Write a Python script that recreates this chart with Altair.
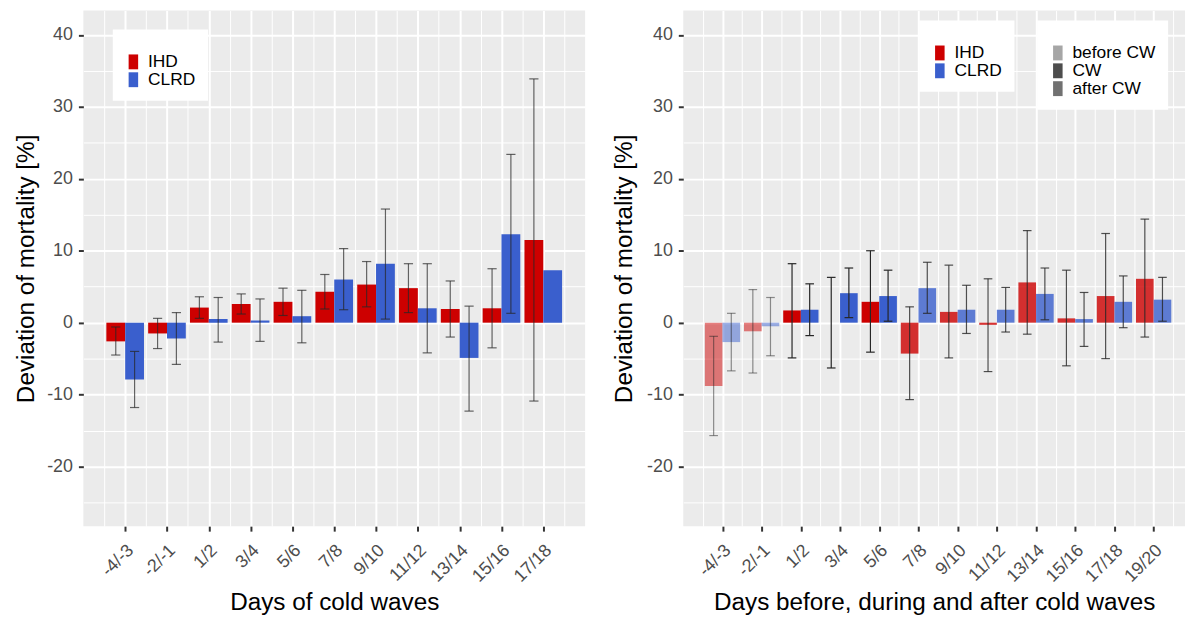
import json
import altair as alt
import pandas as pd

# ---------------- data ----------------
labels_left = ['-4/-3', '-2/-1', '1/2', '3/4', '5/6', '7/8', '9/10', '11/12', '13/14', '15/16', '17/18']
ihd_left = [-2.6, -1.5, 2.1, 2.6, 2.9, 4.3, 5.3, 4.8, 1.9, 2.0, 11.5]
ihd_left_lo = [-4.5, -3.6, 0.6, 1.2, 1.0, 1.9, 2.2, 1.4, -2.0, -3.5, -10.9]
ihd_left_hi = [-0.6, 0.6, 3.6, 4.0, 4.8, 6.7, 8.5, 8.2, 5.8, 7.5, 33.9]
clrd_left = [-7.9, -2.2, 0.5, 0.3, 0.9, 6.0, 8.2, 2.0, -4.9, 12.3, 7.3]
clrd_left_lo = [-11.8, -5.8, -2.7, -2.6, -2.8, 1.8, 0.5, -4.2, -12.3, 1.3, None]
clrd_left_hi = [-4.0, 1.4, 3.5, 3.3, 4.5, 10.3, 15.8, 8.2, 2.3, 23.4, None]

labels_right = ['-4/-3', '-2/-1', '1/2', '3/4', '5/6', '7/8', '9/10', '11/12', '13/14', '15/16', '17/18', '19/20']
ihd_right = [-8.8, -1.2, 1.7, 0.0, 2.9, -4.3, 1.5, -0.3, 5.6, 0.6, 3.7, 6.1]
ihd_right_lo = [-15.7, -7.0, -4.9, -6.3, -4.1, -10.7, -4.9, -6.8, -1.6, -6.0, -5.0, -2.0]
ihd_right_hi = [-1.9, 4.6, 8.2, 6.3, 10.0, 2.2, 8.0, 6.1, 12.8, 7.3, 12.4, 14.4]
clrd_right = [-2.7, -0.5, 1.8, 4.1, 3.7, 4.8, 1.8, 1.8, 4.0, 0.5, 2.9, 3.2]
clrd_right_lo = [-6.7, -4.6, -1.8, 0.7, 0.2, 1.3, -1.5, -1.3, 0.4, -3.3, -0.7, 0.2]
clrd_right_hi = [1.3, 3.5, 5.4, 7.6, 7.3, 8.4, 5.2, 4.9, 7.6, 4.2, 6.5, 6.3]
period_right = ['before CW'] * 2 + ['CW'] * 3 + ['after CW'] * 7

diseases = ['IHD', 'CLRD']
disease_colors = ['#CD0000', '#3A5FCD']
periods = ['before CW', 'CW', 'after CW']
period_alpha = [0.5, 1.0, 0.8]


def make_df(labels, ihd, ihd_lo, ihd_hi, clrd, clrd_lo, clrd_hi, period):
    rows = []
    for i, lab in enumerate(labels):
        for side, (dis, v, lo, hi) in enumerate([('IHD', ihd, ihd_lo, ihd_hi),
                                                 ('CLRD', clrd, clrd_lo, clrd_hi)]):
            rows.append(dict(idx=i, label=lab, disease=dis, side=side, value=v[i],
                             lo=lo[i], hi=hi[i], period=period[i]))
    return pd.DataFrame(rows)


df_left = make_df(labels_left, ihd_left, ihd_left_lo, ihd_left_hi,
                  clrd_left, clrd_left_lo, clrd_left_hi, ['CW'] * len(labels_left))
df_right = make_df(labels_right, ihd_right, ihd_right_lo, ihd_right_hi,
                   clrd_right, clrd_right_lo, clrd_right_hi, period_right)

FONT = 'Liberation Sans'
W, H = 506, 520
YDOM = [-28.3, 43.4]
KEY = 'M-0.64,-1H0.64V1H-0.64Z'
TITLE_SIZE = 24.5


def panel(df, labels, xmax, xtitle, ytitle_x, color_legend, period_legend, use_period):
    n = len(labels)
    xvals = [k * 0.5 for k in range(-1, 2 * n)]
    yvals = list(range(-25, 45, 5))
    xscale = alt.Scale(domain=[-1, xmax], nice=False, zero=False)
    yscale = alt.Scale(domain=YDOM, nice=False, zero=False)
    xaxis = alt.Axis(
        values=xvals,
        labelExpr="datum.value % 1 === 0 ? " + json.dumps(labels) + "[datum.value] : ''",
        labelAngle=-45, labelAlign='right', labelBaseline='top',
        labelPadding=10, labelOffset=-1, labelFontSize=18, labelColor='#4D4D4D', labelFont=FONT,
        tickOpacity={"condition": {"test": "datum.value % 1 === 0", "value": 1}, "value": 0},
        gridWidth={"condition": {"test": "datum.value % 1 === 0", "value": 2}, "value": 1},
        tickSize=5, tickWidth=2, tickColor='#333333',
        grid=True, gridColor='white', gridOpacity=1, domain=False,
        title=xtitle, titleFontSize=TITLE_SIZE, titleFont=FONT, titleFontWeight='normal',
        titleColor='black', titleX=W / 2, titleY=77, titleAlign='center',
        titleBaseline='middle', labelOverlap=False,
    )
    yaxis = alt.Axis(
        values=yvals,
        labelExpr="datum.value % 10 === 0 ? '' + datum.value : ''",
        tickOpacity={"condition": {"test": "datum.value % 10 === 0", "value": 1}, "value": 0},
        gridWidth={"condition": {"test": "datum.value % 10 === 0", "value": 2}, "value": 1},
        tickSize=5, tickWidth=2, tickColor='#333333', labelPadding=6,
        labelFontSize=18, labelColor='#4D4D4D', labelFont=FONT,
        grid=True, gridColor='white', gridOpacity=1, domain=False,
        title='Deviation of mortality [%]', titleFontSize=TITLE_SIZE, titleFont=FONT,
        titleFontWeight='normal', titleColor='black', titleX=ytitle_x, titleY=H / 2,
        titleAlign='center', titleBaseline='middle', titleAngle=-90, labelOverlap=False,
    )

    base = alt.Chart(df).transform_calculate(
        xs='datum.idx - 0.45 + datum.side * 0.45',
        xe='datum.idx + datum.side * 0.45',
        xc='datum.idx - 0.225 + datum.side * 0.45',
        cl='datum.idx - 0.335 + datum.side * 0.45',
        cr='datum.idx - 0.115 + datum.side * 0.45',
    )

    color_enc = alt.Color('disease:N', scale=alt.Scale(domain=diseases, range=disease_colors),
                          legend=color_legend)
    enc = dict(
        x=alt.X('xs:Q', scale=xscale, axis=xaxis),
        x2='xe:Q',
        y=alt.Y('value:Q', scale=yscale, axis=yaxis),
        y2=alt.datum(0),
        color=color_enc,
    )
    op_scale = alt.Scale(type='ordinal', domain=periods, range=period_alpha)
    if use_period:
        enc['opacity'] = alt.Opacity('period:N', scale=op_scale, legend=period_legend)
    bars = base.mark_bar(strokeWidth=0).encode(**enc)

    eb = base.transform_filter('isValid(datum.lo)')
    if use_period:
        eb_op = alt.Opacity('period:N', scale=op_scale, legend=None)
    else:
        eb_op = alt.value(0.7)
    eb_color = '#262626'
    vline = eb.mark_rule(color=eb_color, strokeWidth=1.2).encode(
        x=alt.X('xc:Q', scale=xscale, axis=xaxis),
        y=alt.Y('lo:Q', scale=yscale, axis=yaxis),
        y2='hi:Q',
        opacity=eb_op,
    )
    cap_lo = eb.mark_rule(color=eb_color, strokeWidth=1.2).encode(
        x=alt.X('cl:Q', scale=xscale, axis=xaxis),
        x2='cr:Q',
        y=alt.Y('lo:Q', scale=yscale, axis=yaxis),
        opacity=eb_op,
    )
    cap_hi = eb.mark_rule(color=eb_color, strokeWidth=1.2).encode(
        x=alt.X('cl:Q', scale=xscale, axis=xaxis),
        x2='cr:Q',
        y=alt.Y('hi:Q', scale=yscale, axis=yaxis),
        opacity=eb_op,
    )
    return alt.layer(bars, vline, cap_lo, cap_hi).properties(width=W, height=H)


def legend_box(x, y, extra=None):
    kw = dict(
        orient='none', legendX=x, legendY=y, title=' ', titleFontSize=10, titlePadding=2,
        fillColor='white', padding=12, labelFontSize=17.5, labelFont=FONT, labelColor='black',
        symbolType=KEY, symbolSize=225, symbolStrokeWidth=0,
        labelOffset=6, rowPadding=-2,
    )
    if extra:
        kw.update(extra)
    return alt.Legend(**kw)


left = panel(df_left, labels_left, 11, 'Days of cold waves', -57,
             legend_box(29.7, 19), None, False)
right = panel(df_right, labels_right, 11.8, 'Days before, during and after cold waves', -59.5,
              legend_box(238, 10),
              legend_box(357, 10, dict(symbolFillColor='#4D4D4D')),
              True)

chart = alt.hconcat(left, right, spacing=26).resolve_scale(
    color='independent', opacity='independent'
).properties(
    padding={"left": 6, "top": 0, "right": 0, "bottom": 0}
).configure(
    font=FONT, background='white'
).configure_view(
    fill='#EBEBEB', strokeWidth=0
)

chart.save("out.html", embed_options={"renderer": "svg", "actions": False})
